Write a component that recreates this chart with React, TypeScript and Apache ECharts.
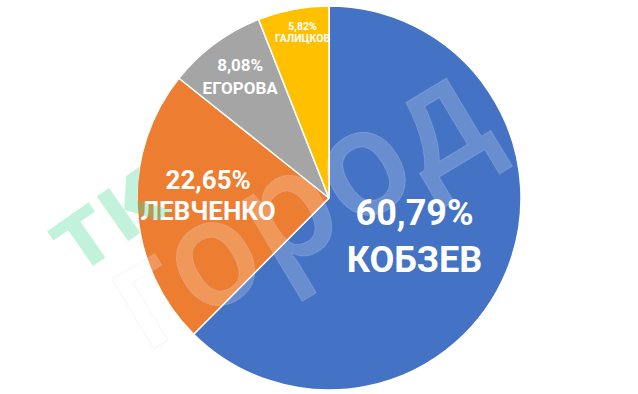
import React, { useEffect, useRef } from "react";
import * as echarts from "echarts";

const names = ["КОБЗЕВ", "ЛЕВЧЕНКО", "ЕГОРОВА", "ГАЛИЦКОВ"];
const shares = [60.79, 22.65, 8.08, 5.82];
const colors = ["#4472C4", "#ED7D31", "#A5A5A5", "#FFC000"];
const labelSizes = [36, 26, 17, 10.5];
const labelLineHeights = [47, 31, 22.5, 12.5];
const labelShift = [
  [-6, 1],
  [-22, -8],
  [-30, -42],
  [-8, -68],
];

const FONT = "Roboto, 'Noto Sans', sans-serif";

export default function App() {
  const ref = useRef<HTMLDivElement>(null);
  useEffect(() => {
    document.body.style.margin = "0";
    const chart = echarts.init(ref.current!, undefined, { renderer: "svg" });
    chart.setOption({
      animation: false,
      backgroundColor: "#ffffff",
      series: [
        {
          type: "pie",
          center: [329, 198],
          radius: [0, 192],
          startAngle: 90,
          clockwise: true,
          silent: true,
          itemStyle: { borderColor: "#ffffff", borderWidth: 1.5 },
          label: {
            show: true,
            position: "inside",
            color: "#ffffff",
            fontFamily: FONT,
            fontWeight: "bold",
            align: "center",
            verticalAlign: "middle",
            formatter: (p: any) =>
              `${Number(p.value).toFixed(2).replace(".", ",")}%\n${p.name}`,
          },
          labelLayout: (p: any) => ({
            dx: labelShift[p.dataIndex][0],
            dy: labelShift[p.dataIndex][1],
          }),
          labelLine: { show: false },
          data: names.map((n, i) => ({
            name: n,
            value: shares[i],
            itemStyle: { color: colors[i] },
            label: { fontSize: labelSizes[i], lineHeight: labelLineHeights[i] },
          })),
        },
      ],
      graphic: [
        {
          type: "text",
          x: 102,
          y: 212,
          rotation: (35 * Math.PI) / 180,
          z: 100,
          style: {
            text: "тк",
            fontSize: 100,
            fontWeight: "bold",
            fontFamily: "'Open Sans', sans-serif",
            fill: "rgba(70, 215, 150, 0.33)",
            align: "center",
            verticalAlign: "middle",
          },
        },
        {
          type: "text",
          x: 292,
          y: 198,
          rotation: (31 * Math.PI) / 180,
          scaleX: 0.95,
          z: 100,
          style: {
            text: "город",
            fontSize: 150,
            fontWeight: 600,
            fontFamily: "'Open Sans', sans-serif",
            fill: "rgba(255, 255, 255, 0.2)",
            stroke: "rgba(205, 208, 235, 0.22)",
            lineWidth: 1,
            align: "center",
            verticalAlign: "middle",
          },
        },
      ],
    });
    return () => chart.dispose();
  }, []);
  return <div ref={ref} style={{ width: 638, height: 394 }} />;
}
